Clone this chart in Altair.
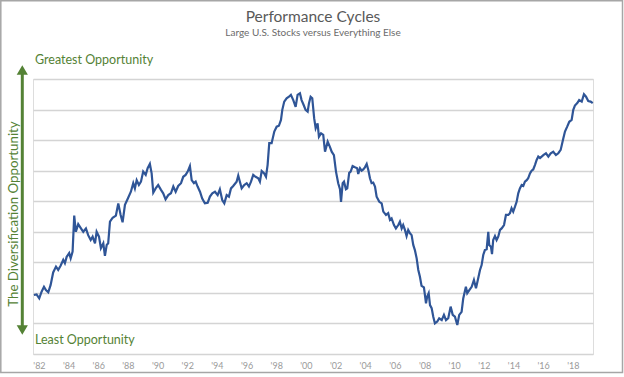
import altair as alt
import pandas as pd

# ---- data ----
years = [
    1981.66, 1981.84, 1982.02, 1982.18, 1982.34, 1982.47, 1982.63, 1982.79, 1982.96, 1983.15,
    1983.30, 1983.46, 1983.64, 1983.75, 1983.87, 1984.04, 1984.14, 1984.27, 1984.38, 1984.49,
    1984.65, 1984.81, 1984.99, 1985.17, 1985.32, 1985.49, 1985.62, 1985.78, 1985.89, 1986.05,
    1986.18, 1986.34, 1986.45, 1986.57, 1986.67, 1986.79, 1986.97, 1987.19, 1987.35, 1987.51,
    1987.64, 1987.80, 1987.95,
    1988.20, 1988.36, 1988.47, 1988.59, 1988.74, 1988.88, 1989.03, 1989.20, 1989.33, 1989.48,
    1989.60, 1989.71, 1989.87, 1990.04, 1990.23, 1990.38, 1990.54, 1990.72, 1990.90, 1991.06,
    1991.22, 1991.39, 1991.58, 1991.73, 1991.89, 1992.03, 1992.18, 1992.30, 1992.45, 1992.57,
    1992.70, 1992.86, 1993.01, 1993.19, 1993.38, 1993.53, 1993.69, 1993.87, 1994.05, 1994.20,
    1994.36, 1994.50, 1994.66, 1994.81, 1994.95, 1995.10,
    1995.33, 1995.44, 1995.55, 1995.67, 1995.84, 1996.01, 1996.16, 1996.30, 1996.45, 1996.61,
    1996.79, 1996.90, 1997.02, 1997.19, 1997.31, 1997.42, 1997.53, 1997.69, 1997.87, 1998.03,
    1998.18, 1998.32, 1998.41, 1998.54, 1998.70, 1998.86, 1998.99, 1999.15, 1999.31, 1999.44,
    1999.60, 1999.71, 1999.85, 1999.98, 2000.12, 2000.21, 2000.32, 2000.43, 2000.56, 2000.66,
    2000.79, 2000.88, 2001.02, 2001.17, 2001.29, 2001.47, 2001.62, 2001.74, 2001.89,
    2002.03, 2002.18, 2002.30, 2002.37, 2002.48, 2002.57, 2002.70, 2002.79, 2002.92, 2003.02,
    2003.15, 2003.31, 2003.46, 2003.53, 2003.65, 2003.76, 2003.87, 2003.98, 2004.10, 2004.21,
    2004.32, 2004.43, 2004.54, 2004.66, 2004.77, 2004.95, 2005.11, 2005.22, 2005.40, 2005.55,
    2005.67, 2005.78, 2005.94, 2006.07, 2006.23, 2006.34, 2006.46, 2006.56, 2006.68, 2006.79,
    2006.90, 2007.02, 2007.13, 2007.24, 2007.35, 2007.47, 2007.58, 2007.69, 2007.80, 2007.96,
    2008.10, 2008.18, 2008.28, 2008.37,
    2008.48, 2008.59, 2008.70, 2008.86, 2008.99, 2009.16, 2009.31, 2009.45, 2009.60, 2009.76,
    2009.90, 2010.05, 2010.21, 2010.34, 2010.50, 2010.61, 2010.79, 2010.88, 2011.02, 2011.18,
    2011.33, 2011.47, 2011.62, 2011.74, 2011.85, 2011.96, 2012.07, 2012.19, 2012.30, 2012.36,
    2012.48, 2012.55, 2012.63, 2012.75, 2012.86, 2012.97, 2013.09, 2013.20, 2013.36, 2013.49,
    2013.65, 2013.76, 2013.87, 2013.98, 2014.10, 2014.21, 2014.32, 2014.43, 2014.55, 2014.66,
    2014.77, 2014.89, 2014.99, 2015.11, 2015.22, 2015.33, 2015.45, 2015.56, 2015.67, 2015.79,
    2016.01, 2016.19, 2016.35, 2016.51, 2016.68, 2016.86, 2017.02, 2017.18, 2017.36, 2017.47,
    2017.62, 2017.76, 2017.92, 2018.03, 2018.14, 2018.30, 2018.43, 2018.60, 2018.75, 2018.89,
    2019.04, 2019.20, 2019.34,
]

values = [
    1.93, 1.95, 1.82, 2.04, 2.20, 2.09, 2.02, 2.26, 2.67, 2.86,
    2.75, 2.89, 3.08, 2.97, 3.18, 3.30, 3.13, 3.35, 4.53, 4.00,
    4.25, 4.13, 4.00, 4.11, 3.89, 3.73, 3.84, 3.62, 4.00, 3.84,
    3.46, 3.62, 3.21, 3.57, 3.62, 4.33, 4.46, 4.53, 4.93, 4.55,
    4.31, 4.88, 5.04,
    5.31, 5.59, 5.42, 5.69, 5.53, 5.64, 5.97, 5.86, 6.08, 6.22,
    5.91, 5.28, 5.42, 5.53, 5.37, 5.26, 5.06, 5.20, 5.26, 5.48,
    5.31, 5.50, 5.59, 5.80, 5.86, 5.97, 6.15, 5.69, 5.59, 5.64,
    5.48, 5.31, 5.09, 4.93, 4.95, 5.15, 5.26, 5.31, 5.20, 5.39,
    5.04, 4.93, 5.20, 5.15, 5.42, 5.50,
    5.64, 5.84, 5.64, 5.42, 5.53, 5.59, 5.48, 5.64, 5.86, 5.80,
    5.75, 5.64, 5.99, 5.91, 5.80, 6.19, 6.90, 6.90, 7.28, 7.44,
    7.47, 7.66, 7.99, 8.26, 8.37, 8.42, 8.48, 8.31, 8.09, 8.48,
    8.53, 8.31, 8.15, 7.99, 7.93, 8.21, 8.42, 8.37, 7.71, 7.39,
    7.55, 7.11, 7.22, 7.17, 6.62, 6.95, 6.78, 6.62, 6.51,
    5.97, 5.59, 5.39, 4.98, 5.59, 5.64, 5.39, 5.42, 5.93, 5.97,
    6.15, 6.11, 6.08, 5.89, 6.08, 6.00, 6.04, 6.11, 6.22, 6.02,
    5.75, 5.59, 5.61, 5.48, 5.15, 4.98, 4.93, 4.66, 4.55, 4.61,
    4.39, 4.44, 4.22, 4.11, 4.22, 4.33, 4.11, 4.22, 4.06, 3.86,
    4.06, 3.95, 3.89, 3.57, 3.40, 3.13, 2.75, 2.53, 2.23, 2.18,
    1.66, 1.88, 1.99, 1.60,
    1.50, 1.22, 1.00, 1.06, 1.17, 1.11, 1.28, 1.11, 1.17, 1.55,
    1.28, 1.22, 0.95, 1.28, 1.38, 1.82, 2.20, 1.99, 2.09, 2.20,
    2.42, 2.15, 2.48, 2.75, 2.91, 3.24, 3.40, 3.43, 4.00, 3.57,
    3.51, 3.27, 3.73, 3.86, 3.73, 3.84, 4.06, 4.11, 4.22, 4.55,
    4.55, 4.61, 4.77, 4.66, 4.82, 4.98, 5.26, 5.42, 5.53, 5.50,
    5.64, 5.69, 5.75, 5.91, 6.00, 6.04, 6.19, 6.35, 6.46, 6.41,
    6.51, 6.57, 6.46, 6.57, 6.62, 6.51, 6.57, 6.68, 7.06, 7.28,
    7.44, 7.60, 7.66, 7.99, 8.13, 8.21, 8.31, 8.26, 8.50, 8.42,
    8.28, 8.26, 8.21,
]

tick_years = [1982, 1984, 1986, 1988, 1990, 1992, 1994, 1996, 1998, 2000,
              2002, 2004, 2006, 2008, 2010, 2012, 2014, 2016, 2018]
grid_values = [0, 1, 2, 3, 4, 5, 6, 7, 8, 9]

title_text = "Performance Cycles"
subtitle_text = "Large U.S. Stocks versus Everything Else"
top_label = "Greatest Opportunity"
bottom_label = "Least Opportunity"
side_label = "The Diversification Opportunity"

df = pd.DataFrame({"year": years, "value": values})
one = pd.DataFrame({"k": [0]})

GREEN = "#548235"
FONT = "Lato"

x_scale = alt.Scale(domain=[1981.6, 2019.36], nice=False, zero=False)
y_scale = alt.Scale(domain=[0, 9], nice=False, zero=True)

line = alt.Chart(df).mark_line(color="#2F5597", strokeWidth=2.2).encode(
    x=alt.X("year:Q", scale=x_scale,
            axis=alt.Axis(values=tick_years, grid=False, domain=False, ticks=False,
                          labelExpr="\"'\" + format(datum.value % 100, '02d')",
                          labelFont=FONT, labelFontSize=9, labelColor="#9a9a9a",
                          labelPadding=7, title=None)),
    y=alt.Y("value:Q", scale=y_scale,
            axis=alt.Axis(values=grid_values, grid=True, gridColor="#d4d4d4",
                          gridWidth=1.6, labels=False, ticks=False, domain=False,
                          title=None)),
)

frame = alt.Chart(one).mark_rect(fill=None, stroke="#a6a6a6", strokeWidth=1.5).encode(
    x=alt.value(-32.2), x2=alt.value(589.5), y=alt.value(-78.2), y2=alt.value(293.5)
)

t_title = alt.Chart(one).mark_text(text=title_text, align="center", baseline="middle",
                                   font=FONT, fontSize=15.5, color="#595959").encode(
    x=alt.value(280), y=alt.value(-62)
)
t_subtitle = alt.Chart(one).mark_text(text=subtitle_text, align="center", baseline="middle",
                                      font=FONT, fontSize=10, color="#6b6b6b").encode(
    x=alt.value(280), y=alt.value(-46)
)

shaft = alt.Chart(one).mark_rule(color=GREEN, strokeWidth=3).encode(
    x=alt.value(-10.7), y=alt.value(-7), y2=alt.value(249)
)
head_up = alt.Chart(one).mark_point(shape="triangle-up", filled=True, opacity=1,
                                    color=GREEN, size=125).encode(
    x=alt.value(-10.7), y=alt.value(-9)
)
head_down = alt.Chart(one).mark_point(shape="triangle-down", filled=True, opacity=1,
                                      color=GREEN, size=125).encode(
    x=alt.value(-10.7), y=alt.value(251)
)

t_top = alt.Chart(one).mark_text(text=top_label, align="left", baseline="middle",
                                 font=FONT, fontSize=12.5, color=GREEN).encode(
    x=alt.value(2), y=alt.value(-19)
)
t_bottom = alt.Chart(one).mark_text(text=bottom_label, align="left", baseline="middle",
                                    font=FONT, fontSize=12.5, color=GREEN).encode(
    x=alt.value(2), y=alt.value(261)
)
t_side = alt.Chart(one).mark_text(text=side_label, align="center", baseline="middle",
                                  angle=270, font=FONT, fontSize=13.3, color=GREEN).encode(
    x=alt.value(-19), y=alt.value(135)
)

chart = alt.layer(frame, line, t_title, t_subtitle, shaft, head_up, head_down,
                  t_top, t_bottom, t_side).properties(
    width=560,
    height=275,
    autosize=alt.AutoSizeParams(type="none"),
    padding={"left": 33, "top": 79, "right": 31, "bottom": 23},
).configure_view(stroke=None).configure(background="white")

chart.save("out.html", embed_options={"renderer": "svg", "actions": False})
